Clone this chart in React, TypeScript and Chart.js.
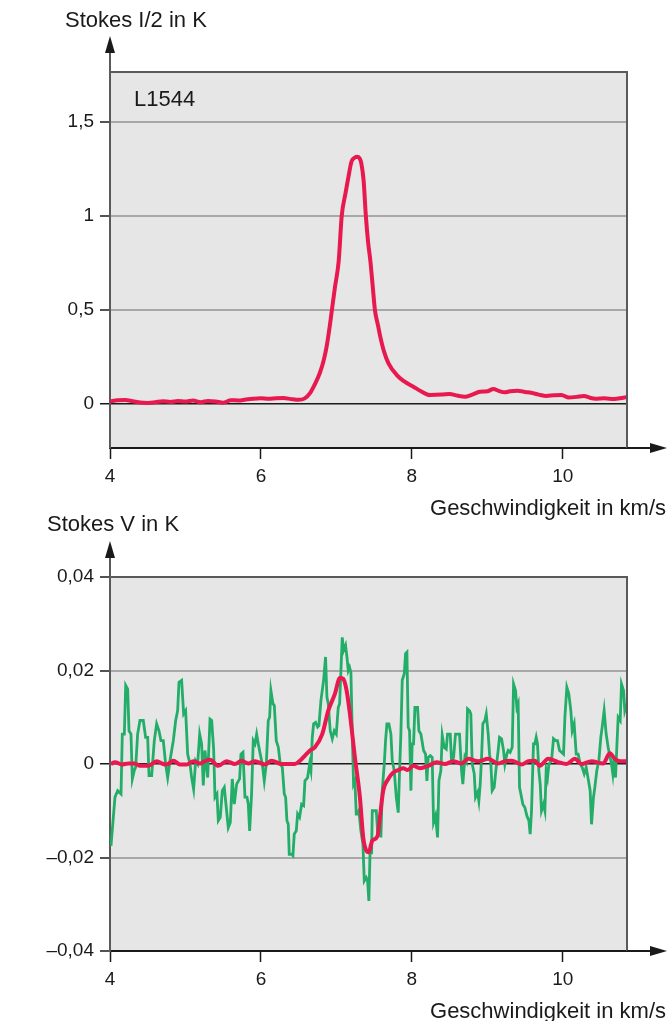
import React, { useEffect, useRef } from 'react';
import { Chart, registerables } from 'chart.js';

Chart.register(...registerables);

const FONT_FAMILY = '"Liberation Sans", Arial, Helvetica, sans-serif';
const TEXT_COLOR = '#1a1a1a';
const RED = '#e8194f';
const GREEN = '#22ad68';
const PLOT_BG = '#e6e6e6';
const FRAME = '#5a5a5a';
const GRID_GRAY = '#a8a8a8';
const AXIS_BLACK = '#1a1a1a';

// ---------- axes / ticks ----------
const xTickValues = [4, 6, 8, 10];
const xTickLabels = ['4', '6', '8', '10'];
const topYTickValues = [0, 0.5, 1, 1.5];
const topYTickLabels = ['0', '0,5', '1', '1,5'];
const bottomYTickValues = [-0.04, -0.02, 0, 0.02, 0.04];
const bottomYTickLabels = ['–0,04', '–0,02', '0', '0,02', '0,04'];
const xTitle = 'Geschwindigkeit in km/s';
const topYTitle = 'Stokes I/2 in K';
const bottomYTitle = 'Stokes V in K';
const sourceName = 'L1544';

// ---------- Stokes I/2 (K) ----------
const stokesIVelocity = [4.0, 4.1, 4.2, 4.3, 4.4, 4.5, 4.6, 4.7, 4.8, 4.9, 5.0, 5.1, 5.2, 5.3, 5.4, 5.5, 5.6, 5.7, 5.8, 5.9, 6.0, 6.1, 6.2, 6.3, 6.4, 6.5, 6.58, 6.65, 6.72, 6.78, 6.83, 6.87, 6.91, 6.94, 6.98, 7.03, 7.07, 7.12, 7.16, 7.2, 7.24, 7.28, 7.31, 7.33, 7.36, 7.39, 7.42, 7.45, 7.48, 7.51, 7.55, 7.58, 7.63, 7.69, 7.8, 7.9, 8.02, 8.12, 8.24, 8.4, 8.5, 8.6, 8.7, 8.8, 8.9, 9.0, 9.08, 9.15, 9.23, 9.3, 9.4, 9.5, 9.58, 9.68, 9.78, 9.88, 9.98, 10.08, 10.18, 10.28, 10.36, 10.43, 10.55, 10.68, 10.78, 10.85];
const stokesIValue = [0.014, 0.02, 0.021, 0.015, 0.008, 0.006, 0.009, 0.015, 0.011, 0.016, 0.013, 0.019, 0.01, 0.016, 0.013, 0.007, 0.02, 0.019, 0.024, 0.028, 0.03, 0.028, 0.031, 0.032, 0.026, 0.022, 0.03, 0.058, 0.11, 0.165, 0.23, 0.305, 0.41, 0.5, 0.62, 0.76, 1.0, 1.12, 1.21, 1.29, 1.31, 1.315, 1.305, 1.28, 1.19, 1.0, 0.86, 0.76, 0.63, 0.5, 0.42, 0.36, 0.28, 0.216, 0.154, 0.12, 0.092, 0.068, 0.048, 0.05, 0.053, 0.045, 0.039, 0.05, 0.065, 0.068, 0.08, 0.07, 0.062, 0.068, 0.071, 0.064, 0.06, 0.05, 0.043, 0.046, 0.048, 0.034, 0.038, 0.043, 0.033, 0.028, 0.03, 0.027, 0.032, 0.037];

// ---------- Stokes V observed (mK), four velocity stretches ----------
const stokesVVelA = [4.013, 4.066, 4.102, 4.146, 4.163, 4.190, 4.208, 4.234, 4.252, 4.278, 4.296, 4.322, 4.340, 4.366, 4.397, 4.441, 4.472, 4.499, 4.517, 4.552, 4.587, 4.618, 4.649, 4.675, 4.706, 4.737, 4.764, 4.795, 4.817, 4.839, 4.870, 4.896, 4.914, 4.949, 4.976, 5.002, 5.029, 5.060, 5.082, 5.108, 5.135, 5.161, 5.188, 5.214, 5.236, 5.258, 5.294, 5.325, 5.347, 5.373, 5.391, 5.417, 5.435, 5.461, 5.488, 5.514, 5.545, 5.567, 5.594, 5.620, 5.647, 5.678];
const stokesVmKA = [-17.5, -7.1, -5.7, -6.4, 6.4, 6.4, 16.8, 16.0, 7.1, 6.4, -3.2, -1.4, -0.7, 6.4, 9.3, 9.3, 5.7, 5.7, -2.5, -2.5, 5.0, 8.6, 7.1, 5.0, 5.0, 0, -2.9, 0.7, 2.9, 5.0, 9.3, 11.4, 17.5, 17.9, 10.7, 11.4, 2.1, 0, -2.9, -5.4, 0.7, 0, 6.4, 4.3, -4.6, 2.9, -2.9, 9.6, 9.3, 3.2, -7.1, -6.4, -12.1, -11.4, -5.7, -5.0, -10.0, -13.6, -12.5, -3.2, -8.6, -4.3];
const stokesVVelB = [5.717, 5.735, 5.762, 5.788, 5.815, 5.832, 5.850, 5.876, 5.898, 5.921, 5.943, 5.965, 5.991, 6.018, 6.044, 6.071, 6.097, 6.115, 6.132, 6.159, 6.177, 6.203, 6.230, 6.256, 6.283, 6.309, 6.327, 6.344, 6.362, 6.375, 6.406, 6.424, 6.441, 6.468, 6.486, 6.512, 6.539, 6.565, 6.583, 6.618, 6.645, 6.662, 6.680, 6.698, 6.724, 6.751, 6.768, 6.795, 6.812, 6.830, 6.856, 6.874, 6.892, 6.918, 6.945, 6.971, 6.998, 7.024, 7.042, 7.060, 7.077, 7.095, 7.121, 7.139, 7.157, 7.174, 7.192, 7.210, 7.227, 7.245, 7.263, 7.280, 7.298, 7.324, 7.351, 7.369, 7.395];
const stokesVmKB = [-3.2, 2.1, 2.5, -7.1, -7.1, -8.6, -14.3, -6.4, 5.0, 4.3, 6.4, 4.3, 2.1, 0, -3.6, 0, 9.3, 10.0, 15.7, 12.9, 12.5, 5.0, 3.6, 0, -0.7, -6.4, -7.1, -12.1, -12.9, -19.3, -19.3, -19.6, -15.0, -14.3, -10.7, -11.4, -8.6, -8.9, -3.6, -2.9, 0, -1.4, 5.7, 8.6, 8.9, 7.9, 8.2, 13.6, 15.7, 17.9, 22.9, 14.3, 12.9, 7.1, 5.4, 7.1, 6.4, 12.1, 12.9, 20.0, 27.1, 24.3, 25.4, 22.9, 20.0, 20.7, 19.6, 6.4, -4.3, -3.6, -10.7, -10.7, -10.0, -14.3, -17.1, -25.0, -24.3];
const stokesVVelC = [7.413, 7.430, 7.448, 7.466, 7.475, 7.501, 7.528, 7.545, 7.572, 7.589, 7.607, 7.634, 7.651, 7.669, 7.695, 7.722, 7.740, 7.766, 7.793, 7.819, 7.837, 7.854, 7.872, 7.899, 7.916, 7.934, 7.951, 7.969, 7.987, 8.004, 8.022, 8.040, 8.075, 8.093, 8.119, 8.155, 8.181, 8.199, 8.216, 8.243, 8.269, 8.287, 8.313, 8.340, 8.358, 8.384, 8.402, 8.428, 8.455, 8.472, 8.508, 8.525, 8.552, 8.578, 8.631, 8.658, 8.675, 8.702, 8.720, 8.737, 8.764, 8.781, 8.799, 8.826, 8.843, 8.870, 8.887, 8.905, 8.923, 8.940, 8.967, 8.985, 9.011, 9.029, 9.046, 9.064, 9.090, 9.117, 9.143];
const stokesVmKC = [-25.0, -29.3, -17.1, -19.3, -10.0, -10.0, -10.0, -14.3, -12.9, -15.7, -5.7, 0, 5.0, 8.6, 8.6, 6.4, 0.7, -1.4, -7.1, -10.4, -1.4, 6.4, 17.9, 19.3, 23.6, 23.9, 7.9, 7.1, -5.7, 4.3, 4.3, 12.1, 12.1, 7.1, 6.4, 2.9, 2.1, -3.6, 1.4, 1.8, 1.4, -12.5, -11.1, -15.7, -3.6, -1.4, 6.1, 3.6, 3.2, 6.4, 6.4, 0.7, 1.4, 6.4, 6.4, -1.4, -4.3, 1.4, 0.7, 11.8, 11.4, 10.7, 0, -2.1, -7.1, -6.1, -7.9, -4.3, 1.4, 8.6, 9.3, 10.7, 6.4, 2.1, 0, -5.7, -5.0, -0.7, 2.9];
const stokesVVelD = [9.161, 9.188, 9.214, 9.232, 9.258, 9.276, 9.302, 9.329, 9.347, 9.373, 9.391, 9.408, 9.426, 9.444, 9.470, 9.497, 9.523, 9.550, 9.567, 9.585, 9.611, 9.629, 9.647, 9.664, 9.682, 9.700, 9.717, 9.744, 9.762, 9.779, 9.797, 9.815, 9.850, 9.876, 9.903, 9.929, 9.956, 9.982, 10.009, 10.027, 10.053, 10.079, 10.106, 10.124, 10.150, 10.177, 10.203, 10.230, 10.256, 10.283, 10.309, 10.336, 10.362, 10.380, 10.406, 10.424, 10.450, 10.477, 10.503, 10.521, 10.547, 10.574, 10.600, 10.627, 10.645, 10.662, 10.680, 10.698, 10.715, 10.733, 10.760, 10.777, 10.804, 10.821, 10.848];
const stokesVmKD = [5.7, 5.4, 2.9, 0, 2.1, 2.9, 2.5, 3.6, 17.1, 15.7, 12.1, 12.9, -5.0, -6.4, -8.6, -9.3, -11.1, -12.1, -15.0, -10.0, 4.3, 4.3, 5.7, 4.3, -1.4, -4.3, -10.0, -8.6, -10.0, -1.4, -2.9, 0, 0.7, 5.4, 5.0, 5.0, 2.9, 2.5, 2.1, 10.0, 16.4, 15.0, 11.4, 7.1, 8.6, 2.1, 2.1, 0, -0.7, -2.1, -0.7, -3.2, -5.7, -12.9, -7.1, -5.0, -1.4, 0.7, 5.7, 7.9, 11.4, 6.4, 3.6, 1.4, 0, -2.1, 1.4, -2.9, 3.6, 10.0, 9.3, 17.1, 15.7, 11.4, 12.9];

// ---------- Stokes V fit (mK) ----------
const fitVelocity = [4.013, 4.066, 4.155, 4.243, 4.331, 4.397, 4.508, 4.618, 4.706, 4.751, 4.839, 4.927, 5.016, 5.104, 5.192, 5.258, 5.325, 5.435, 5.545, 5.656, 5.744, 5.832, 5.921, 6.053, 6.141, 6.274, 6.450, 6.517, 6.583, 6.649, 6.715, 6.812, 6.892, 6.980, 7.046, 7.091, 7.135, 7.179, 7.245, 7.311, 7.355, 7.399, 7.430, 7.475, 7.545, 7.576, 7.620, 7.687, 7.753, 7.819, 7.885, 7.943, 8.018, 8.106, 8.216, 8.327, 8.437, 8.548, 8.658, 8.746, 8.879, 9.011, 9.143, 9.232, 9.320, 9.453, 9.541, 9.629, 9.695, 9.806, 9.938, 10.049, 10.159, 10.247, 10.380, 10.534, 10.623, 10.689, 10.755, 10.848];
const fitmK = [0, 0.4, -0.1, 0.1, 0.1, -0.4, -0.4, 0.6, 0, -0.1, 0.7, -0.1, -0.1, 0.6, 0.1, 0.6, 0.9, -0.4, 0.6, 0, 0.7, 0.1, 0.6, -0.1, 0.7, 0, 0, 0.7, 1.8, 2.9, 3.6, 6.4, 11.4, 15.0, 18.4, 18.2, 15.7, 10.7, 1.4, -7.1, -15.7, -18.6, -18.9, -16.4, -15.4, -11.4, -5.7, -3.2, -1.8, -1.3, -0.9, -1.3, -0.4, -0.9, -0.4, 0.4, 0, 0.6, 0.1, 1.1, 0.6, 1.1, 0.1, 0.6, 0.7, -0.1, 0.6, 0.7, -0.4, 1.1, 0.4, 0, 1.1, 0, 0.6, 0.1, 2.3, 1.1, 0.6, 0.6];

const toPoints = (xs: number[], ys: number[], scale = 1) =>
  xs.map((x, i) => ({ x, y: ys[i] * scale }));

const font = (size: number) => ({ family: FONT_FAMILY, size });

type Spec = {
  canvasHeight: number;
  plotTop: number;
  plotBottom: number;
  yMin: number;
  yMax: number;
  yTicks: number[];
  yLabels: string[];
  yTitle: string;
  yTitleX: number;
  yTitleBaseline: number;
  tag?: string;
  datasets: any[];
};

function decorPlugin(spec: Spec) {
  return {
    id: 'decor',
    beforeDraw(chart: any) {
      const { ctx, chartArea: a } = chart;
      ctx.save();
      ctx.fillStyle = PLOT_BG;
      ctx.fillRect(a.left, a.top, a.right - a.left, a.bottom - a.top);
      ctx.restore();
    },
    afterDraw(chart: any) {
      const { ctx, chartArea: a } = chart;
      ctx.save();
      ctx.strokeStyle = FRAME;
      ctx.lineWidth = 2;
      ctx.beginPath();
      ctx.moveTo(a.left, a.top);
      ctx.lineTo(a.right, a.top);
      ctx.lineTo(a.right, a.bottom);
      ctx.stroke();
      ctx.beginPath();
      ctx.moveTo(a.left, a.top);
      ctx.lineTo(a.left, a.top - 22);
      ctx.stroke();
      ctx.fillStyle = AXIS_BLACK;
      ctx.beginPath();
      ctx.moveTo(a.left, a.top - 36);
      ctx.lineTo(a.left - 5, a.top - 19);
      ctx.lineTo(a.left + 5, a.top - 19);
      ctx.closePath();
      ctx.fill();
      ctx.strokeStyle = AXIS_BLACK;
      ctx.beginPath();
      ctx.moveTo(a.right, a.bottom);
      ctx.lineTo(653, a.bottom);
      ctx.stroke();
      ctx.beginPath();
      ctx.moveTo(667, a.bottom);
      ctx.lineTo(650, a.bottom - 5);
      ctx.lineTo(650, a.bottom + 5);
      ctx.closePath();
      ctx.fill();
      ctx.fillStyle = TEXT_COLOR;
      ctx.font = `22px ${FONT_FAMILY}`;
      ctx.textBaseline = 'alphabetic';
      ctx.textAlign = 'left';
      ctx.fillText(spec.yTitle, spec.yTitleX, spec.yTitleBaseline);
      if (spec.tag) ctx.fillText(spec.tag, a.left + 24, a.top + 34);
      ctx.textAlign = 'right';
      ctx.fillText(xTitle, 666, a.bottom + 67);
      ctx.restore();
    },
  };
}

function makeConfig(spec: Spec): any {
  const xHeight = 40;
  return {
    type: 'line',
    data: { datasets: spec.datasets },
    options: {
      responsive: false,
      maintainAspectRatio: false,
      animation: false,
      events: [],
      layout: {
        padding: {
          left: 0,
          right: 668 - 627,
          top: spec.plotTop,
          bottom: spec.canvasHeight - spec.plotBottom - xHeight,
        },
      },
      plugins: {
        legend: { display: false },
        tooltip: { enabled: false },
        title: { display: false },
      },
      scales: {
        x: {
          type: 'linear',
          min: 4,
          max: 10.85,
          afterBuildTicks: (s: any) => {
            s.ticks = xTickValues.map((v) => ({ value: v }));
          },
          afterFit: (s: any) => {
            s.height = xHeight;
          },
          ticks: {
            autoSkip: false,
            maxRotation: 0,
            minRotation: 0,
            padding: 6,
            color: TEXT_COLOR,
            font: font(19),
            callback: (v: number) => xTickLabels[xTickValues.indexOf(v)] ?? '',
          },
          grid: {
            drawOnChartArea: false,
            drawTicks: true,
            tickLength: 11,
            tickColor: AXIS_BLACK,
            tickWidth: 1.5,
          },
          border: { display: true, color: AXIS_BLACK, width: 2 },
        },
        y: {
          type: 'linear',
          min: spec.yMin,
          max: spec.yMax,
          afterBuildTicks: (s: any) => {
            s.ticks = spec.yTicks.map((v) => ({ value: v }));
          },
          afterFit: (s: any) => {
            s.width = 110;
          },
          ticks: {
            padding: 6,
            color: TEXT_COLOR,
            font: font(19),
            callback: (v: number) => spec.yLabels[spec.yTicks.indexOf(v)] ?? '',
          },
          grid: {
            drawTicks: true,
            tickLength: 10,
            tickColor: AXIS_BLACK,
            tickWidth: 1.5,
            color: (c: any) => {
              const v = c.tick ? c.tick.value : null;
              if (v === 0) return AXIS_BLACK;
              if (v === spec.yMax) return FRAME;
              return GRID_GRAY;
            },
            lineWidth: (c: any) => (c.tick && c.tick.value === 0 ? 1.5 : 2),
          },
          border: { display: true, color: FRAME, width: 2 },
        },
      },
    },
    plugins: [decorPlugin(spec)],
  };
}

function Panel({ spec, top }: { spec: Spec; top: number }) {
  const ref = useRef<HTMLCanvasElement | null>(null);
  useEffect(() => {
    if (!ref.current) return;
    const chart = new Chart(ref.current, makeConfig(spec));
    return () => chart.destroy();
  }, []);
  return (
    <canvas
      ref={ref}
      width={668}
      height={spec.canvasHeight}
      style={{ position: 'absolute', left: 0, top, width: 668, height: spec.canvasHeight }}
    />
  );
}

const topSpec: Spec = {
  canvasHeight: 530,
  plotTop: 72,
  plotBottom: 448,
  yMin: -0.234,
  yMax: 1.766,
  yTicks: topYTickValues,
  yLabels: topYTickLabels,
  yTitle: topYTitle,
  yTitleX: 65,
  yTitleBaseline: 27,
  tag: sourceName,
  datasets: [
    {
      data: toPoints(stokesIVelocity, stokesIValue),
      borderColor: RED,
      borderWidth: 4,
      pointRadius: 0,
      cubicInterpolationMode: 'monotone',
      fill: false,
    },
  ],
};

const bottomSpec: Spec = {
  canvasHeight: 531,
  plotTop: 87,
  plotBottom: 461,
  yMin: -0.04,
  yMax: 0.04,
  yTicks: bottomYTickValues,
  yLabels: bottomYTickLabels,
  yTitle: bottomYTitle,
  yTitleX: 47,
  yTitleBaseline: 41,
  datasets: [
    {
      data: toPoints(fitVelocity, fitmK, 0.001),
      borderColor: RED,
      borderWidth: 4,
      pointRadius: 0,
      cubicInterpolationMode: 'monotone',
      fill: false,
    },
    {
      data: [
        ...toPoints(stokesVVelA, stokesVmKA, 0.001),
        ...toPoints(stokesVVelB, stokesVmKB, 0.001),
        ...toPoints(stokesVVelC, stokesVmKC, 0.001),
        ...toPoints(stokesVVelD, stokesVmKD, 0.001),
      ],
      borderColor: GREEN,
      borderWidth: 2.8,
      pointRadius: 0,
      tension: 0,
      fill: false,
    },
  ],
};

export default function App() {
  return (
    <div style={{ position: 'absolute', left: 0, top: 0, width: 668, height: 1021, background: '#fff', overflow: 'hidden' }}>
      <Panel spec={topSpec} top={0} />
      <Panel spec={bottomSpec} top={490} />
    </div>
  );
}
